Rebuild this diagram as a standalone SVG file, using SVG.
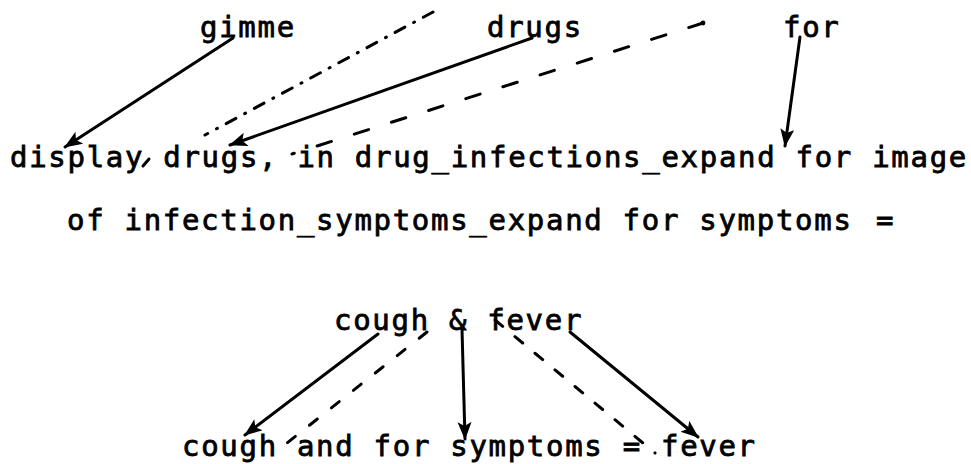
<svg xmlns="http://www.w3.org/2000/svg" width="971" height="464" viewBox="0 0 971 464">
  <defs>
    <style>
      .t { font-family: "DejaVu Sans Mono", "Liberation Mono", monospace; font-size: 29px; font-weight: normal; letter-spacing: 1.7px; fill: #000; stroke: #000; stroke-width: 0.8px; }
      .solid { stroke: #000; stroke-width: 3; fill: none; stroke-linecap: round; marker-end: url(#head); }
      .dash { stroke: #000; stroke-width: 3; fill: none; stroke-linecap: round; }
    </style>
    <marker id="head" markerUnits="userSpaceOnUse" markerWidth="22" markerHeight="16" refX="17" refY="7" orient="auto">
      <path d="M0,0 L18,7 L0,14 L4,7 Z" fill="#000"/>
    </marker>
  </defs>
  <rect width="971" height="464" fill="#fff"/>

  <!-- top row words -->
  <g id="n-gimme"><text class="t" x="200" y="37">gimme</text></g>
  <g id="n-drugs-top"><text class="t" x="487" y="37">drugs</text></g>
  <g id="n-for-top"><text class="t" x="783" y="37">for</text></g>

  <!-- expanded query -->
  <g id="n-query">
    <text class="t" x="10" y="167">display drugs, in drug_infections_expand for image</text>
    <text class="t" x="67" y="230">of infection_symptoms_expand for symptoms</text>
    <text class="t" x="876" y="230">=</text>
  </g>

  <!-- conjunction and its rewriting -->
  <g id="n-cough-fever"><text class="t" x="334" y="330">cough &amp; fever</text></g>
  <g id="n-rewrite"><text class="t" x="182" y="456">cough and for symptoms = fever</text></g>

  <g id="connectors">
    <!-- solid arrows -->
    <line class="solid" x1="233" y1="38" x2="65" y2="147"/>
    <line class="solid" x1="532" y1="38" x2="230" y2="145"/>
    <line class="solid" x1="800" y1="37" x2="785" y2="146"/>
    <line class="solid" x1="378" y1="334" x2="245" y2="435"/>
    <line class="solid" x1="462" y1="329" x2="465" y2="439"/>
    <line class="solid" x1="570" y1="332" x2="698" y2="437"/>

    <!-- dash-dot link -->
    <line class="dash" x1="433" y1="12" x2="205" y2="135" stroke-dasharray="11 10 1 10"/>
    <!-- long dashed link -->
    <line class="dash" x1="703" y1="23" x2="292" y2="154" stroke-dasharray="15 24"/>
    <circle cx="703" cy="23" r="2.4" fill="#000"/>
    <!-- lower dashed links -->
    <line class="dash" x1="427" y1="332" x2="282" y2="447" stroke-dasharray="10 18"/>
    <line class="dash" x1="495" y1="320" x2="655" y2="453" stroke-dasharray="10 16"/>
    <!-- small tick after "display" -->
    <line class="dash" x1="143" y1="166" x2="149" y2="159"/>
  </g>
</svg>
